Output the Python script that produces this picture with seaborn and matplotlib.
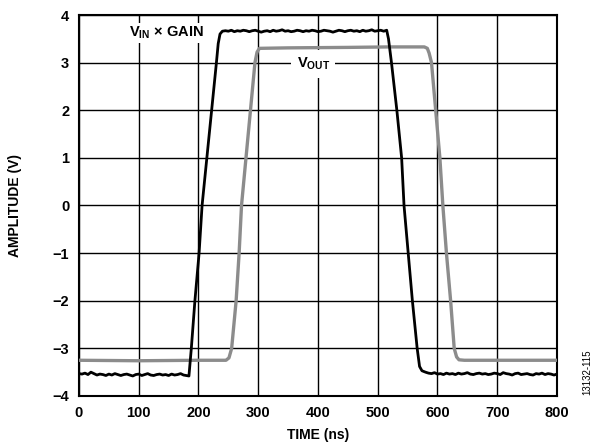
import matplotlib
matplotlib.use("Agg")
import matplotlib.pyplot as plt
import pandas as pd
import seaborn as sns

# V_IN x GAIN trace (ns, V)
vin_low_t = list(range(0, 185, 5))
vin_low_v = [-3.53, -3.54, -3.52, -3.55, -3.50, -3.53, -3.56, -3.54, -3.55, -3.57,
             -3.54, -3.56, -3.53, -3.55, -3.57, -3.55, -3.54, -3.56, -3.58, -3.55,
             -3.54, -3.57, -3.55, -3.53, -3.56, -3.57, -3.55, -3.54, -3.56, -3.55,
             -3.57, -3.54, -3.56, -3.55, -3.53, -3.56, -3.57]
vin_rise_t = [184, 188, 194, 201, 206, 214, 222, 230, 233, 236, 240]
vin_rise_v = [-3.58, -3.0, -2.0, -1.0, 0.0, 1.0, 2.0, 3.0, 3.4, 3.6, 3.66]
vin_high_t = list(range(245, 515, 5))
vin_high_v = [3.67, 3.66, 3.68, 3.65, 3.67, 3.66, 3.68, 3.67, 3.65, 3.67, 3.68, 3.66,
              3.64, 3.66, 3.67, 3.65, 3.68, 3.66, 3.67, 3.69, 3.66, 3.67, 3.65, 3.66,
              3.68, 3.67, 3.65, 3.67, 3.66, 3.68, 3.67, 3.65, 3.66, 3.68, 3.67, 3.66,
              3.64, 3.66, 3.68, 3.67, 3.65, 3.67, 3.68, 3.66, 3.67, 3.65, 3.68, 3.66,
              3.67, 3.69, 3.66, 3.67, 3.68, 3.66]
vin_fall_t = [515, 518, 523, 532, 540, 544, 551, 558, 566, 570, 574]
vin_fall_v = [3.68, 3.5, 3.0, 2.0, 1.0, 0.0, -1.0, -2.0, -3.0, -3.38, -3.47]
vin_tail_t = list(range(580, 805, 5))
vin_tail_v = [-3.50, -3.52, -3.53, -3.51, -3.54, -3.53, -3.55, -3.52, -3.54, -3.53,
              -3.55, -3.52, -3.54, -3.53, -3.51, -3.54, -3.55, -3.53, -3.52, -3.54,
              -3.53, -3.55, -3.54, -3.52, -3.53, -3.55, -3.51, -3.53, -3.54, -3.56,
              -3.53, -3.52, -3.55, -3.54, -3.53, -3.55, -3.56, -3.53, -3.54, -3.52,
              -3.55, -3.53, -3.54, -3.56, -3.54]

# V_OUT trace (ns, V)
vout_t = [0, 100, 200, 246, 251, 255.5, 263, 268, 272, 279.5, 287, 294.5, 298, 302,
          350, 450, 520, 578, 583, 586, 590, 597, 604, 609, 615, 622, 628, 632, 636,
          645, 700, 800]
vout_v = [-3.25, -3.26, -3.25, -3.25, -3.2, -3.0, -2.0, -1.0, 0.0, 1.0, 2.0, 3.0, 3.22,
          3.30, 3.31, 3.32, 3.33, 3.33, 3.30, 3.2, 3.0, 2.0, 1.0, 0.0, -1.0, -2.0,
          -3.0, -3.18, -3.24, -3.25, -3.25, -3.25]

x_ticks = [0, 100, 200, 300, 400, 500, 600, 700, 800]
y_ticks = [-4, -3, -2, -1, 0, 1, 2, 3, 4]

sns.set_theme(style="white")
plt.rcParams["font.family"] = ["Liberation Sans", "DejaVu Sans"]
plt.rcParams["text.color"] = "black"
plt.rcParams["axes.labelcolor"] = "black"
plt.rcParams["xtick.color"] = "black"
plt.rcParams["ytick.color"] = "black"
plt.rcParams["mathtext.fontset"] = "custom"
plt.rcParams["mathtext.rm"] = "Liberation Sans:bold"
plt.rcParams["mathtext.it"] = "Liberation Sans:bold"
plt.rcParams["mathtext.bf"] = "Liberation Sans:bold"

vin = pd.DataFrame({
    "t": vin_low_t + vin_rise_t + vin_high_t + vin_fall_t + vin_tail_t,
    "v": vin_low_v + vin_rise_v + vin_high_v + vin_fall_v + vin_tail_v,
})
vout = pd.DataFrame({"t": vout_t, "v": vout_v})

fig = plt.figure(figsize=(5.98, 4.48), dpi=100)
ax = fig.add_axes([0.1321, 0.1161, 0.7993, 0.8504])

ax.grid(True, color="black", linewidth=1.0)
ax.set_axisbelow(True)

sns.lineplot(data=vout, x="t", y="v", ax=ax, color="#8c8c8c", linewidth=2.4,
             estimator=None, sort=False, zorder=3)
sns.lineplot(data=vin, x="t", y="v", ax=ax, color="black", linewidth=2.0,
             estimator=None, sort=False, zorder=4)

ax.set_xlim(0, 800)
ax.set_ylim(-4, 4)
ax.set_xticks(x_ticks)
ax.set_yticks(y_ticks)
ax.set_xticklabels([str(v) for v in x_ticks], fontsize=10.5, fontweight="bold",
                   color="black")
ax.set_yticklabels([str(v).replace("-", "\u2212") for v in y_ticks], fontsize=10.5,
                   fontweight="bold", color="black")
ax.tick_params(axis="both", length=0, pad=7, colors="black")

for s in ax.spines.values():
    s.set_color("black")
    s.set_linewidth(1.5)

ax.set_xlabel("TIME (ns)", fontsize=10, fontweight="bold", labelpad=6, color="black")
ax.set_ylabel("AMPLITUDE (V)", fontsize=10, fontweight="bold", labelpad=22, color="black")

ax.text(147, 3.62, r"V$_{\mathrm{IN}}$ × GAIN", fontsize=10.5, fontweight="bold",
        ha="center", va="center", zorder=5,
        bbox=dict(facecolor="white", edgecolor="none", pad=1.5))
ax.text(392, 2.97, r"V$_{\mathrm{OUT}}$", fontsize=10.5, fontweight="bold",
        ha="center", va="center", zorder=5,
        bbox=dict(facecolor="white", edgecolor="none", pad=4))

fig.text(0.982, 0.17, "13132-115", rotation=90, fontsize=7, ha="center",
         va="center", color="black")

fig.savefig("out.png", dpi=100)
